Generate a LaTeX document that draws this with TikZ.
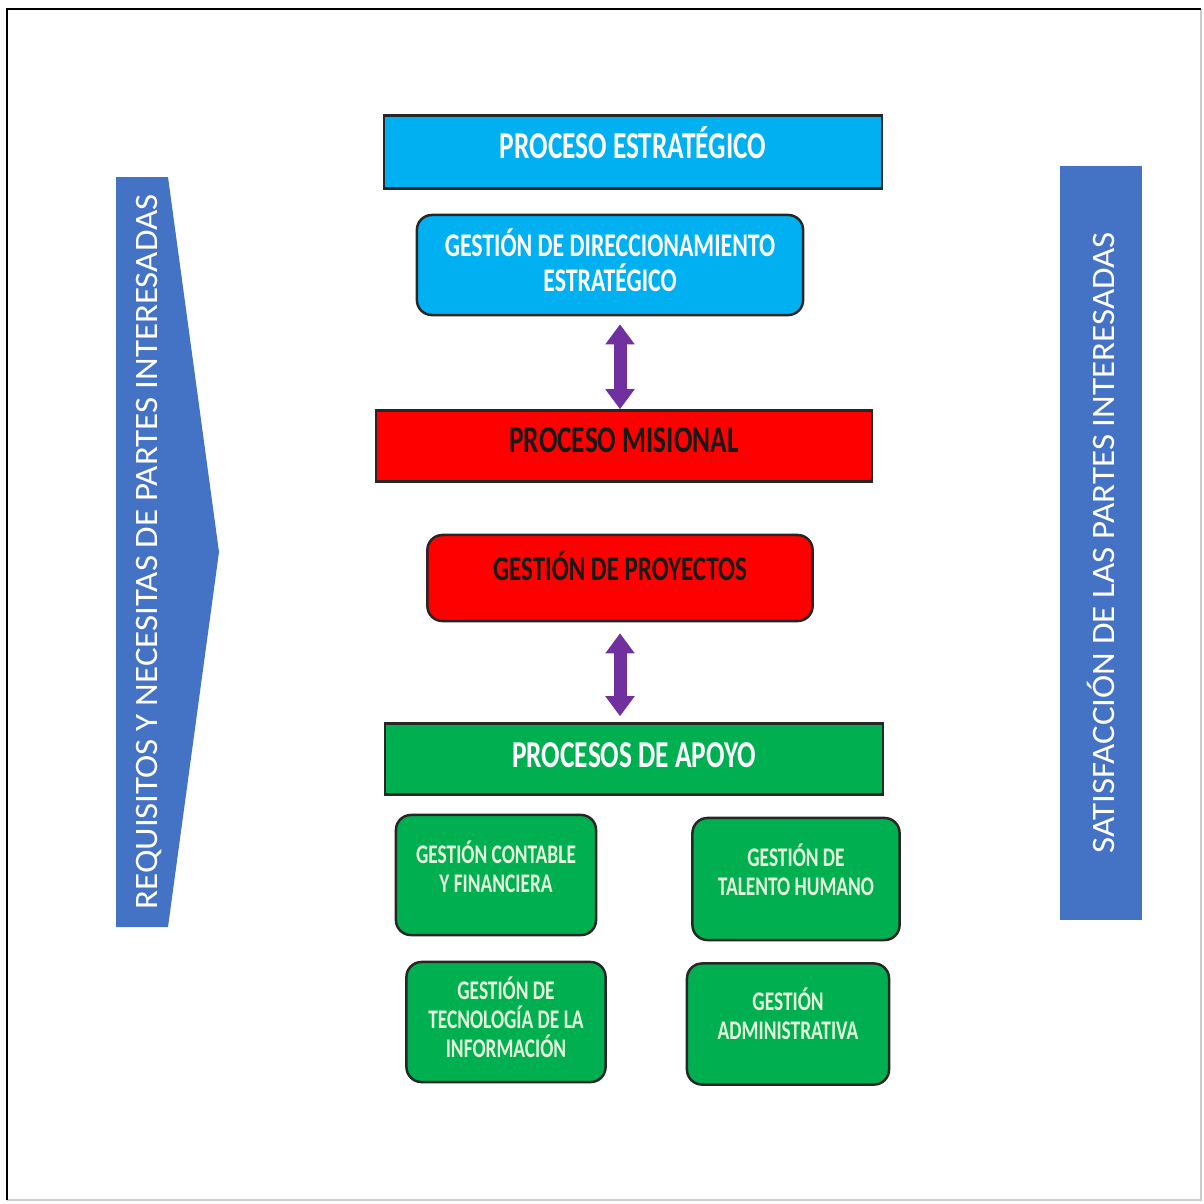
\documentclass[tikz,border=0pt]{standalone}
\usepackage{fontspec}
\setmainfont{Carlito}
\newfontfamily\boxfont{Carlito}[FakeStretch=0.72]
\newfontfamily\sidefont{Carlito}[FakeStretch=1.07]
\usetikzlibrary{arrows.meta, positioning}
\definecolor{cyanbox}{HTML}{00B0F0}
\definecolor{redbox}{HTML}{FF0000}
\definecolor{greenbox}{HTML}{00B050}
\definecolor{sideblue}{HTML}{4472C4}
\definecolor{arrpurple}{HTML}{7030A0}
\definecolor{greentxt}{HTML}{E6F6DC}
\tikzset{
  bar/.style   ={rectangle, draw=black!85, line width=0.025cm, text centered,
                 minimum width=4.98cm, minimum height=0.71cm,
                 font={\boxfont\bfseries\fontsize{10.8}{12}\selectfont}},
  gbox/.style  ={rectangle, rounded corners=0.15cm, draw=black!85, line width=0.025cm,
                 align=center, font={\boxfont\bfseries\fontsize{9.4}{10.1}\selectfont}},
  sbox/.style  ={gbox, fill=greenbox, text=greentxt, minimum width=2.0cm, minimum height=1.2cm,
                 font={\boxfont\bfseries\fontsize{7.65}{8.3}\selectfont}},
  side/.style  ={text=white, rotate=90, font={\sidefont\fontsize{9.3}{11}\selectfont}},
  up/.style    ={text depth=#1},
  dblarr/.style={{Triangle[width=0.28cm, length=0.2cm]}-{Triangle[width=0.28cm, length=0.2cm]},
                 line width=0.13cm, arrpurple},
}

\begin{document}
\begin{tikzpicture}[x=0.01cm, y=-0.01cm]

  \useasboundingbox (0,0) rectangle (1204,1203);
  % frame
  \draw[gray!40, line width=0.015cm] (1201,9) -- (1201,1200) -- (7,1200);
  \draw[black, line width=0.025cm] (7,1200) -- (7,9) -- (1201,9);

  % ── Side bars ──────────────────────────────────────────────────────
  \fill[sideblue] (116,177) -- (168,177) -- (219,552) -- (168,927) -- (116,927) -- cycle;
  \node[side] (req) at (149,552) {REQUISITOS Y NECESITAS DE PARTES INTERESADAS};
  \node[side, fill=sideblue, minimum width=7.54cm, minimum height=0.82cm] (sat) at (1101,543)
        {SATISFACCIÓN DE LAS PARTES INTERESADAS};

  % ── Estrategico ────────────────────────────────────────────────────
  \node[bar, up=0.18cm, fill=cyanbox, text=white] (est) at (633,152) {PROCESO ESTRATÉGICO};
  \node[gbox, up=0.1cm, fill=cyanbox, text=white, minimum width=3.86cm, minimum height=1.0cm] (dir)
        at (610,265) {GESTIÓN DE DIRECCIONAMIENTO\\ESTRATÉGICO};

  % ── Misional ───────────────────────────────────────────────────────
  \node[bar, up=0.12cm, fill=redbox, text=black!90, minimum width=4.96cm] (mis) at (624,446)
        {PROCESO MISIONAL};
  \node[gbox, up=0.24cm, fill=redbox, text=black!90, minimum width=3.85cm, minimum height=0.86cm,
        font={\boxfont\bfseries\fontsize{9.9}{11}\selectfont}] (proy)
        at (620,578) {GESTIÓN DE PROYECTOS};

  % ── Apoyo ──────────────────────────────────────────────────────────
  \node[bar, up=0.08cm, fill=greenbox, text=white] (apo) at (634,759) {PROCESOS DE APOYO};
  \node[sbox, up=0.17cm] (cont) at (496,875) {GESTIÓN CONTABLE\\Y FINANCIERA};
  \node[sbox, up=0.18cm, minimum width=2.07cm, minimum height=1.22cm] (tal) at (796,879)
        {GESTIÓN DE\\TALENTO HUMANO};
  \node[sbox, up=0.1cm, minimum width=1.99cm] (tec) at (506,1022)
        {GESTIÓN DE\\TECNOLOGÍA DE LA\\INFORMACIÓN};
  \node[sbox, up=0.2cm, minimum width=2.02cm, minimum height=1.21cm] (adm) at (788,1024)
        {GESTIÓN\\ADMINISTRATIVA};

  % ── Double arrows ──────────────────────────────────────────────────
  \coordinate (ax) at (620,0);
  \draw[dblarr, shorten <=0.08cm] (ax |- dir.south) -- (ax |- mis.north);
  \draw[dblarr, shorten <=0.11cm, shorten >=0.06cm] (ax |- proy.south) -- (ax |- apo.north);

\end{tikzpicture}
\end{document}
